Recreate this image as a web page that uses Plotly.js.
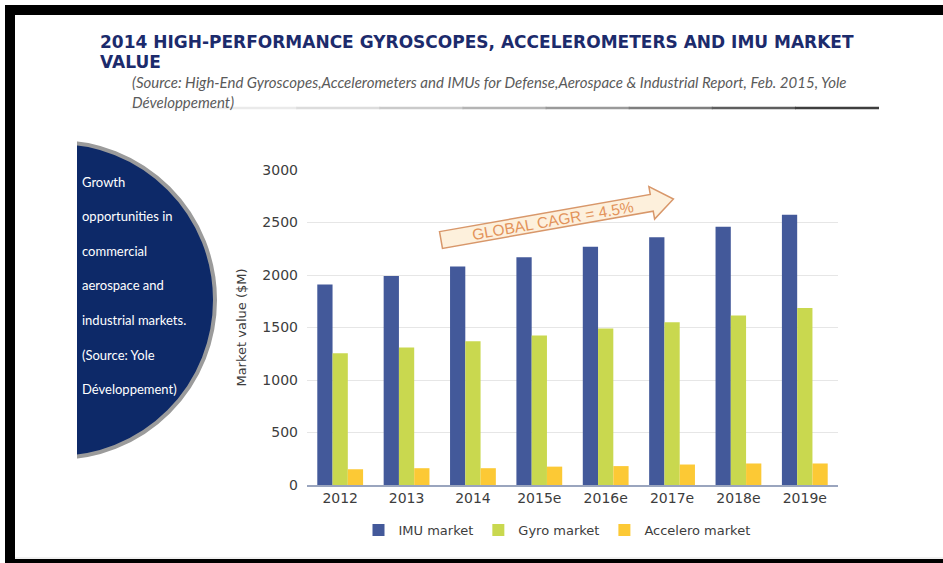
<!DOCTYPE html>
<html>
<head>
<meta charset="utf-8">
<script src="https://cdn.plot.ly/plotly-3.0.1.min.js"></script>
<style>html,body{margin:0;padding:0;background:#fff;}#chart{width:943px;height:563px;}</style>
</head>
<body>
<div id="chart"></div>
<script>
// ---- data ----
const years = ["2012", "2013", "2014", "2015e", "2016e", "2017e", "2018e", "2019e"];
const imuMarket = [1910, 1990, 2080, 2170, 2270, 2360, 2460, 2575];
const gyroMarket = [1255, 1310, 1370, 1425, 1490, 1550, 1615, 1685];
const acceleroMarket = [150, 160, 160, 175, 180, 195, 205, 205];
const seriesNames = ["IMU market", "Gyro market", "Accelero market"];
const panelLines = ["Growth", "opportunities in", "commercial", "aerospace and", "industrial markets.", "(Source: Yole", "Développement)"];
const titleLines = ["2014 HIGH-PERFORMANCE GYROSCOPES, ACCELEROMETERS AND IMU MARKET", "VALUE"];
const subtitleLines = ["(Source: High-End Gyroscopes,Accelerometers and IMUs for Defense,Aerospace & Industrial Report, Feb. 2015, Yole", "Développement)"];
const cagrText = "GLOBAL CAGR = 4.5%";

// ---- layout geometry (pixels) ----
const W = 943, H = 563;
const M = {l: 307, r: 105, t: 170, b: 78};
const PW = W - M.l - M.r, PH = H - M.t - M.b;
const px = x => (x - M.l) / PW;
const py = y => (H - M.b - y) / PH;

const colors = ["#43599a", "#c9d84f", "#fcc935"];
const tickFont = {family: "DejaVu Sans, Verdana, sans-serif", size: 14, color: "#3d3d3d"};

const traces = [imuMarket, gyroMarket, acceleroMarket].map((vals, i) => ({
  type: "bar", x: years, y: vals, name: seriesNames[i],
  marker: {color: colors[i], line: {width: 0}},
  hoverinfo: "x+y+name"
}));

const shapes = [];
const annotations = [];

// left navy half-disc
const cx = 57, cy = 300, r = 158;
shapes.push({type: "circle", xref: "paper", yref: "paper",
  x0: px(cx - r), x1: px(cx + r), y0: py(cy + r), y1: py(cy - r),
  fillcolor: "#0d2968", line: {color: "#9b9b9b", width: 4}, layer: "above"});
shapes.push({type: "rect", xref: "paper", yref: "paper",
  x0: px(0), x1: px(77), y0: py(480), y1: py(120),
  fillcolor: "#ffffff", line: {width: 0}, layer: "above"});

// black frame
shapes.push({type: "rect", xref: "paper", yref: "paper", x0: px(5), x1: px(943), y0: py(15), y1: py(5), fillcolor: "#000", line: {width: 0}, layer: "above"});
shapes.push({type: "rect", xref: "paper", yref: "paper", x0: px(5), x1: px(15), y0: py(563), y1: py(5), fillcolor: "#000", line: {width: 0}, layer: "above"});
shapes.push({type: "rect", xref: "paper", yref: "paper", x0: px(5), x1: px(943), y0: py(563), y1: py(559), fillcolor: "#000", line: {width: 0}, layer: "above"});
shapes.push({type: "line", xref: "paper", yref: "paper", x0: px(15), x1: px(943), y0: py(558), y1: py(558), line: {color: "#e2e2e2", width: 1}, layer: "above"});

// gradient rule under the subtitle
const ruleStops = ["#f4f4f4", "#eaeaea", "#dcdcdc", "#cacaca", "#b4b4b4", "#9a9a9a", "#7e7e7e", "#5e5e5e", "#3e3e3e"];
const rx0 = 130, rx1 = 878, seg = (rx1 - rx0) / ruleStops.length;
ruleStops.forEach((c, i) => shapes.push({type: "line", xref: "paper", yref: "paper",
  x0: px(rx0 + i * seg), x1: px(rx0 + (i + 1) * seg + 1), y0: py(108), y1: py(108),
  line: {color: c, width: 2.5}, layer: "above"}));

// CAGR arrow
const ang = 10 * Math.PI / 180;
const T = [441, 240];
const u = [Math.cos(ang), -Math.sin(ang)], n = [Math.sin(ang), Math.cos(ang)];
const P = (s, t) => [T[0] + u[0] * s + n[0] * t, T[1] + u[1] * s + n[1] * t];
const Ls = 214, L = 236, hw = 8.5, hh = 16.5;
const pts = [P(0, -hw), P(Ls, -hw), P(Ls, -hh), P(L, 0), P(Ls, hh), P(Ls, hw), P(0, hw)];
const path = pts.map((p, i) => (i ? "L" : "M") + px(p[0]).toFixed(5) + "," + py(p[1]).toFixed(5)).join(" ") + " Z";
shapes.push({type: "path", xref: "paper", yref: "paper", path: path,
  fillcolor: "#fdf0dc", line: {color: "#d8976a", width: 1.5}, layer: "above"});
annotations.push({xref: "paper", yref: "paper", x: px(553), y: py(220.5), xanchor: "center", yanchor: "middle",
  text: cagrText, showarrow: false, textangle: -10,
  font: {family: "Liberation Sans, Arial, sans-serif", size: 15.5, color: "#e3935a"}});

// panel text
const panelY0 = 181.5, panelDy = 34.6;
panelLines.forEach((t, i) => annotations.push({xref: "paper", yref: "paper",
  x: px(80), y: py(panelY0 + i * panelDy), xanchor: "left", yanchor: "middle",
  text: t, showarrow: false, font: {family: "Lato, sans-serif", size: 13, color: "#ffffff"}}));

// title lines
const titleY = [42, 62];
titleLines.forEach((t, i) => annotations.push({xref: "paper", yref: "paper",
  x: px(99), y: py(titleY[i]), xanchor: "left", yanchor: "middle", borderpad: 0,
  text: "<b>" + t + "</b>", showarrow: false,
  font: {family: "DejaVu Sans, sans-serif", size: 17, color: "#1c2b6c"}}));
// source (wrapped)
annotations.push({xref: "paper", yref: "paper", x: px(131), y: py(72.2), xanchor: "left", yanchor: "top",
  align: "left", borderpad: 0,
  text: subtitleLines.map(t => "<i>" + t + "</i>").join("<br>"), showarrow: false,
  font: {family: "Lato, sans-serif", size: 15, color: "#5a5a5a"}});

const layout = {
  width: W, height: H, margin: M,
  paper_bgcolor: "#ffffff", plot_bgcolor: "#ffffff",
  barmode: "group", bargap: 0.31, bargroupgap: 0,
  showlegend: true,
  legend: {orientation: "h", x: px(557), xanchor: "center", y: py(530), yanchor: "middle",
    font: {family: "DejaVu Sans, Verdana, sans-serif", size: 13, color: "#3d3d3d"},
    itemwidth: 30, traceorder: "normal"},
  xaxis: {type: "category", showline: true, linecolor: "#9aa5be", linewidth: 1.5,
    showgrid: false, ticks: "", tickfont: tickFont, automargin: false, fixedrange: true},
  yaxis: {range: [0, 3000], dtick: 500, tick0: 0, showgrid: true, gridcolor: "#e6e6e6", gridwidth: 1,
    zeroline: false, showline: false, ticks: "", ticklabelstandoff: 8, tickfont: tickFont,
    title: {text: "Market value ($M)", standoff: 12, font: {family: "DejaVu Sans, Verdana, sans-serif", size: 13, color: "#3d3d3d"}},
    automargin: false, fixedrange: true},
  shapes: shapes,
  annotations: annotations
};

Plotly.newPlot("chart", traces, layout, {displayModeBar: false, staticPlot: true});
</script>
</body>
</html>
